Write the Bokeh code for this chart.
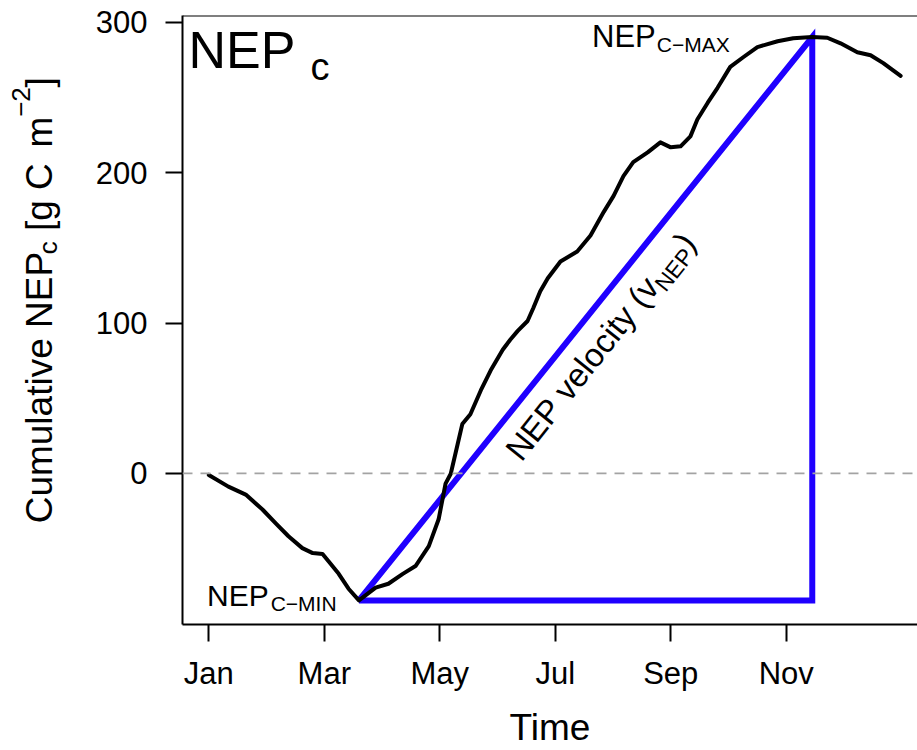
import math
from bokeh.plotting import figure
from bokeh.layouts import row
from bokeh.models import Range1d, FixedTicker, Span, Label
from bokeh.embed import file_html
from bokeh.resources import INLINE

# ---------------- data (x in months since 1 Jan) ----------------
month_pos = [0.0, 0.34, 0.64, 0.93, 1.16, 1.38, 1.62, 1.80, 1.97, 2.07, 2.25, 2.42,
             2.60, 2.89, 3.11, 3.36, 3.58, 3.81, 3.98, 4.10, 4.19, 4.31, 4.39, 4.53,
             4.71, 4.88, 5.09, 5.22, 5.35, 5.52, 5.62, 5.74, 5.87, 6.09, 6.38, 6.61,
             6.84, 7.01, 7.18, 7.35, 7.60, 7.82, 8.00, 8.17, 8.34, 8.46, 8.64, 8.81,
             9.03, 9.26, 9.50, 9.85, 10.12, 10.45, 10.71, 10.94, 11.23, 11.46, 11.68, 11.98]
cum_nep = [-1, -8.8, -14.1, -24.0, -33.2, -41.8, -49.7, -53.0, -53.6, -58.3, -66.8, -76.7,
           -84.5, -76.0, -73.4, -66.8, -61.6, -48.4, -30.5, -6.8, -0.2, 19.6, 32.8, 39.4,
           55.2, 68.4, 82.3, 88.9, 94.8, 101.4, 110.0, 121.2, 129.8, 141.0, 147.6, 158.2,
           174.0, 184.6, 197.7, 207.0, 213.6, 220.2, 216.9, 217.6, 224.2, 235.4, 246.6, 256.5,
           270.4, 277.0, 283.6, 287.5, 289.5, 290.3, 289.8, 286.1, 280.2, 278.2, 272.9, 264.4]
x_tick_pos = [0, 2, 4, 6, 8, 10]
x_tick_labels = ["Jan", "Mar", "May", "Jul", "Sep", "Nov"]
y_tick_pos = [0, 100, 200, 300]

# ---------------- layout (page pixels, page margin is 0) ----------------
FONT = "Liberation Sans"
PAGE_W, PAGE_H = 917, 750
LW = 84                             # width of the y-title strip
FL, FT, FB = 182, 15, 629           # frame edges
FR = PAGE_W
SX = 57.75                          # px per month
X0 = -0.455
X1 = X0 + (FR - FL) / SX
Y0, Y1 = -100.5, 304.6
SY = (FB - FT) / (Y1 - Y0)
K_BASE = 0.35                       # label anchor sits ~0.35 em above the baseline


def at_main(px, py):
    return X0 + (px - FL) / SX, Y1 - (py - FT) / SY


def at_strip(px, py):
    return px, PAGE_H - py


ADV = {' ': .278, 'C': .722, 'u': .556, 'm': .833, 'l': .222, 'a': .556, 't': .278,
       'i': .222, 'v': .5, 'e': .556, 'N': .722, 'E': .667, 'P': .667, 'c': .5,
       '[': .278, 'g': .556, ']': .278, '−': .584, '2': .556, '(': .333, ')': .333,
       'o': .556, 'y': .5, 'M': .833, 'A': .667, 'X': .667, 'I': .278}


def tw(s, size):
    return sum(ADV.get(ch, .556) for ch in s) * size


p = figure(width=PAGE_W - LW, height=PAGE_H, x_range=Range1d(X0, X1),
           y_range=Range1d(Y0, Y1), output_backend="svg", toolbar_location=None,
           min_border_left=FL - LW, min_border_right=0, min_border_top=FT,
           min_border_bottom=PAGE_H - FB)
p.outline_line_color = None
p.xgrid.visible = False
p.ygrid.visible = False
p.background_fill_color = "white"
p.border_fill_color = "white"

for ax in (p.xaxis[0], p.yaxis[0]):
    ax.axis_line_width = 2
    ax.axis_line_color = "black"
    ax.major_tick_line_width = 2
    ax.major_tick_line_color = "black"
    ax.major_tick_out = 17
    ax.major_tick_in = 0
    ax.minor_tick_out = 0
    ax.minor_tick_in = 0
    ax.major_label_text_font = FONT
    ax.major_label_text_font_size = "31px"
    ax.major_label_text_color = "black"

p.xaxis.ticker = FixedTicker(ticks=x_tick_pos)
p.xaxis.major_label_overrides = {t: l for t, l in zip(x_tick_pos, x_tick_labels)}
p.xaxis.major_label_standoff = 14
p.xaxis.axis_label = "Time"
p.xaxis.axis_label_text_font = FONT
p.xaxis.axis_label_text_font_size = "37px"
p.xaxis.axis_label_text_font_style = "normal"
p.xaxis.axis_label_text_color = "black"
p.xaxis.axis_label_standoff = 13

p.yaxis.ticker = FixedTicker(ticks=y_tick_pos)
p.yaxis.major_label_standoff = 18

# top frame line
p.add_layout(Span(location=Y1, dimension="width", line_color="black", line_width=2))
# zero line
p.add_layout(Span(location=0, dimension="width", line_color="#a3a3a3", line_width=1.6,
                  line_dash="10 8"))

# blue triangle from min and max of the series
i_min = min(range(len(cum_nep)), key=lambda i: cum_nep[i])
i_max = max(range(len(cum_nep)), key=lambda i: cum_nep[i])
xm, ym = month_pos[i_min], cum_nep[i_min]
xM, yM = month_pos[i_max], cum_nep[i_max]
p.line([xm, xM, xM, xm], [ym, yM, ym, ym], line_color="#1f00ff", line_width=6,
       line_join="miter")

p.line(month_pos, cum_nep, line_color="black", line_width=4, line_join="round",
       line_cap="round")

# strip on the left for the y title (its frame is aligned with the main frame)
strip = figure(width=LW, height=PAGE_H, x_range=Range1d(0, LW),
               y_range=Range1d(PAGE_H - FB, PAGE_H - FT),
               output_backend="svg", toolbar_location=None, x_axis_type=None,
               y_axis_type=None, min_border_left=0, min_border_right=0,
               min_border_top=FT, min_border_bottom=PAGE_H - FB)
strip.outline_line_color = None
strip.xgrid.visible = False
strip.ygrid.visible = False
strip.border_fill_color = "white"
strip.background_fill_color = "white"


def run(fig, mapper, start, angle, pieces):
    """Place a run of text pieces; start = baseline start in page px."""
    dx, dy = math.cos(angle), -math.sin(angle)
    nx, ny = math.sin(angle), math.cos(angle)
    pos = 0.0
    for text, size, shift, gap in pieces:
        pos += gap
        s = shift - K_BASE * size
        px = start[0] + pos * dx + s * nx
        py = start[1] + pos * dy + s * ny
        x, y = mapper(px, py)
        fig.add_layout(Label(x=x, y=y, text=text, angle=angle, text_font=FONT,
                             text_font_size=f"{size}px", text_align="left",
                             text_baseline="alphabetic", text_color="black"))
        pos += tw(text, size)


SP37 = tw(" ", 37)

# panel title
run(p, at_main, (188, 68.3), 0, [("NEP", 52, 0, 0), ("c", 38, 12, 15)])
# max / min annotations
run(p, at_main, (591.5, 46.7), 0, [("NEP", 31, 0, 0), ("C−MAX", 21, 5, 1)])
run(p, at_main, (206.5, 610), 0, [("NEP", 30, 0, 0), ("C−MIN", 21, 5, 2)])
# velocity label along the triangle hypotenuse
ang = math.atan2((yM - ym) * SY, (xM - xm) * SX)
run(p, at_main, (521, 466), ang,
    [("NEP velocity (v", 33, 0, 0), ("NEP", 23, 6, 0), (")", 33, 0, 0)])
# y axis title
run(strip, at_strip, (52, 527), math.pi / 2,
    [("Cumulative NEP", 37, 0, 0), ("c", 26, 5, 0), ("[g C", 37, 0, SP37),
     ("m", 37, 0, SP37 * 1.6), ("−2", 26, -22, 0), ("]", 37, 0, 0)])

layout = row(strip, p)
open("out.html", "w").write(file_html(layout, INLINE))
